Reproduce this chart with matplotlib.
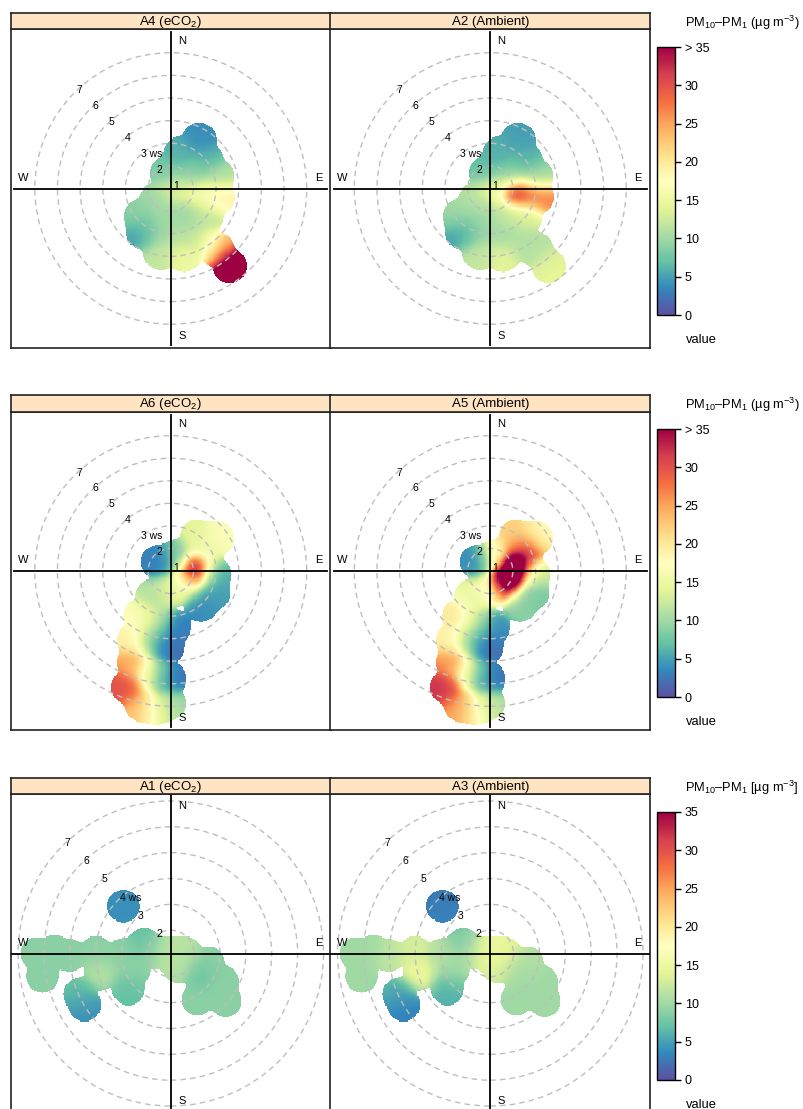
import numpy as np
import matplotlib
matplotlib.use("Agg")
import matplotlib.pyplot as plt
from matplotlib.patches import Circle
from matplotlib.cm import ScalarMappable
from matplotlib.colors import Normalize

plt.rcParams['font.family'] = ['Liberation Sans', 'DejaVu Sans']
plt.rcParams['mathtext.fontset'] = 'custom'
plt.rcParams['mathtext.rm'] = 'Liberation Sans'
plt.rcParams['mathtext.it'] = 'Liberation Sans:italic'

# ---- data: wind speed (m/s), wind direction (deg), PM10-PM1 (ug m-3) ----
# row 1 : A4 (eCO2) / A2 (Ambient)
ws_r1 = [3.5, 2.6, 3.0, 3.1, 1.7, 1.1, 2.3, 3.1, 1.8, 2.8, 3.3,
         2.3, 2.4, 3.0, 3.9, 4.0, 3.8, 4.4, 5.3, 2.2, 3.1, 3.2]
wd_r1 = [30, 15, 52, 75, 345, 117, 99, 100, 231, 227, 212,
         194, 150, 128, 189, 169, 149, 143, 143, 56, 197, 165]
pm_a4 = [4, 6, 6, 11, 8, 14, 16, 19, 10, 9, 5,
         10, 10, 12, 12, 15, 13, 24, 40, 9, 10, 11]
pm_a2 = [5, 6, 6, 10, 7, 16, 32, 27, 11, 10, 5,
         10, 12, 13, 12, 14, 11, 11, 14, 9, 9, 10]

# row 2 : A6 (eCO2) / A5 (Ambient)
ws_r2 = [1.7, 1.7, 2.1, 1.9, 2.8, 3.5, 2.9, 2.9, 3.1, 3.0, 1.9, 2.4, 3.4,
         3.3, 3.5, 4.5, 4.3, 4.4, 5.4, 6.5, 5.7, 5.7, 5.8, 7.1, 7.1, 6.9]
wd_r2 = [306, 23, 88, 128, 60, 54, 37, 94, 118, 138, 182, 216, 214,
         196, 177, 208, 195, 183, 202, 200, 193, 187, 181, 192, 186, 181]
pm_a6 = [3, 8, 40, 17, 15, 17, 14, 6, 5, 4, 14, 11, 17,
         12, 3, 19, 8, 2, 25, 30, 17, 9, 2, 23, 16, 10]
pm_a5 = [4, 18, 55, 40, 34, 18, 22, 13, 8, 9, 17, 15, 20,
         12, 4, 19, 8, 2, 26, 32, 17, 8, 2, 25, 19, 11]

# row 3 : A1 (eCO2) / A3 (Ambient)
ws_r3 = [3.7, 2.2, 1.15, 1.65, 6.3, 6.15, 5.0, 4.0, 3.95, 4.95, 5.0,
         2.95, 3.25, 1.7, 2.5, 3.15, 3.4, 3.9, 2.6, 5.6, 2.7, 1.7]
wd_r3 = [315, 289, 315, 86, 270, 260, 269, 271, 254, 246, 239,
         269, 230, 274, 125, 150, 119, 131, 104, 271, 245, 151]
pm_a1 = [4, 7, 12, 11, 9, 9, 9, 9, 11, 7, 4,
         9, 7, 10, 7, 9, 9, 9, 9, 9, 9, 11]
pm_a3 = [3, 8, 16, 14, 10, 10, 12, 13, 15, 6, 3,
         11, 6, 12, 10, 10, 10, 10, 11, 10, 10, 13]

titles = [["A4 (eCO$_2$)", "A2 (Ambient)"],
          ["A6 (eCO$_2$)", "A5 (Ambient)"],
          ["A1 (eCO$_2$)", "A3 (Ambient)"]]
cb_ticks = [0, 5, 10, 15, 20, 25, 30, 35]

W, H = 804, 1109
cmap = plt.get_cmap('Spectral_r')
norm = Normalize(0, 35)


def box(x0, y0, x1, y1):
    return [x0 / W, 1 - y1 / H, (x1 - x0) / W, (y1 - y0) / H]


def surface(ax, ws, wd, val, c, lim, R, sig):
    rho = np.asarray(ws) - c
    th = np.radians(wd)
    px = rho * np.sin(th)
    py = rho * np.cos(th)
    g = np.linspace(-lim, lim, 300)
    X, Y = np.meshgrid(g, g)
    d2 = (X[..., None] - px) ** 2 + (Y[..., None] - py) ** 2
    w = np.exp(-d2 / (2 * sig ** 2))
    z = (w * np.asarray(val, float)).sum(-1) / w.sum(-1)
    # footprint of the data: union of discs with a small fillet
    sm = 0.37 * R
    dens = np.exp(-d2 / (2 * sm ** 2)).sum(-1)
    z = np.ma.masked_where(dens < np.exp(-R ** 2 / (2 * sm ** 2)), z)
    ax.imshow(z, origin='lower', extent=(-lim, lim, -lim, lim), cmap=cmap,
              norm=norm, interpolation='nearest', aspect='auto', zorder=1)


def polar_panel(ax, ws, wd, val, c, lim, R, sig, ws_lab):
    surface(ax, ws, wd, val, c, lim, R, sig)
    for k in range(1, 8):
        r = k - c
        if r < 0:
            continue
        if r > 0:
            ax.add_patch(Circle((0, 0), r, fill=False, ec='#BEBEBE', lw=1.0,
                                ls=(0, (4, 3)), zorder=2))
        lab = f"{k} ws" if k == ws_lab else str(k)
        a = np.radians(315)
        ax.annotate(lab, (r * np.sin(a), r * np.cos(a)), xytext=(1.5, 2),
                    textcoords='offset points', ha='left', va='center',
                    fontsize=7.5, zorder=4)
    L = 1.15 * (7 - c)
    ax.plot([-L, L], [0, 0], color='black', lw=1.3, zorder=3)
    ax.plot([0, 0], [-L, L], color='black', lw=1.3, zorder=3)
    off = 11 / 319.5
    rr = 148 / 319.5
    for lab, x, y in [("N", 0.5 + off, 0.5 + rr), ("S", 0.5 + off, 0.5 - rr),
                      ("E", 0.5 + rr, 0.5 + off), ("W", 0.5 - rr, 0.5 + off)]:
        ax.text(x, y, lab, transform=ax.transAxes, ha='center', va='center',
                fontsize=8, zorder=4)
    ax.set_xlim(-lim, lim)
    ax.set_ylim(-lim, lim)
    ax.set_xticks([])
    ax.set_yticks([])
    for s in ax.spines.values():
        s.set_linewidth(1.2)
        s.set_color('#222222')


fig = plt.figure(figsize=(W / 100, H / 100), dpi=100)

rows = [
    dict(ws=ws_r1, wd=wd_r1, vals=[pm_a4, pm_a2], c=1.0, lim=7.05, R=0.76, sig=0.42,
         lab=3, y=(13, 29, 348), cb=(47, 315), top="> 35",
         unit="PM$_{10}$–PM$_1$ (µg m$^{-3}$)"),
    dict(ws=ws_r2, wd=wd_r2, vals=[pm_a6, pm_a5], c=1.0, lim=7.05, R=0.76, sig=0.42,
         lab=3, y=(395, 412, 730), cb=(429, 697), top="> 35",
         unit="PM$_{10}$–PM$_1$ (µg m$^{-3}$)"),
    dict(ws=ws_r3, wd=wd_r3, vals=[pm_a1, pm_a3], c=1.1, lim=6.17, R=0.63, sig=0.4,
         lab=4, y=(778, 794, 1113), cb=(812, 1080), top="35",
         unit="PM$_{10}$–PM$_1$ [µg m$^{-3}$]"),
]
xcols = [(11, 330.5), (330.5, 650)]

for i, row in enumerate(rows):
    y0, y1, y2 = row['y']
    for j, (x0, x1) in enumerate(xcols):
        ax = fig.add_axes(box(x0, y1, x1, y2))
        polar_panel(ax, row['ws'], row['wd'], row['vals'][j], row['c'],
                    row['lim'], row['R'], row['sig'], row['lab'])
        st = fig.add_axes(box(x0, y0, x1, y1))
        st.set_facecolor('#FFE4C4')
        st.set_xticks([])
        st.set_yticks([])
        for s in st.spines.values():
            s.set_linewidth(1.2)
            s.set_color('#222222')
        st.text(0.5, 0.45, titles[i][j], ha='center', va='center', fontsize=9.5,
                transform=st.transAxes)

    ct, cbm = row['cb']
    cax = fig.add_axes(box(657, ct, 675, cbm))
    cb = fig.colorbar(ScalarMappable(norm=norm, cmap=cmap), cax=cax, ticks=cb_ticks)
    cb.ax.set_yticklabels([str(t) for t in cb_ticks[:-1]] + [row['top']])
    cb.outline.set_linewidth(1.0)
    cax.tick_params(length=4, width=1, labelsize=9, pad=3)
    fig.text(685 / W, 1 - (ct - 24) / H, row['unit'], fontsize=9.3, va='center')
    fig.text(686 / W, 1 - (cbm + 25) / H, "value", fontsize=9.3, va='center')

fig.savefig("out.png", dpi=100)
